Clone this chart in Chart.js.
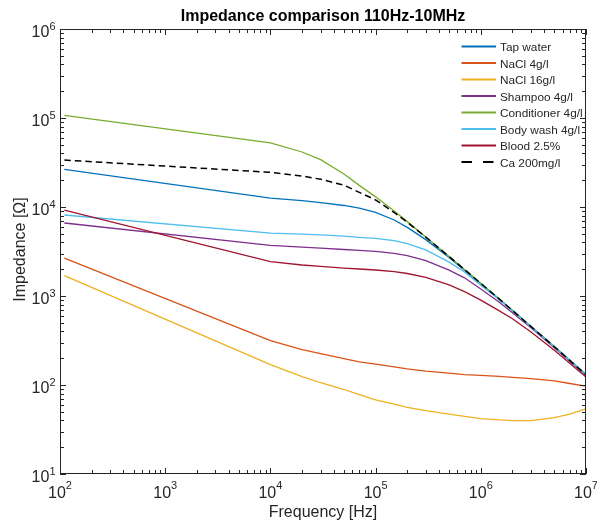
<!DOCTYPE html>
<html>
<head>
<meta charset="utf-8">
<title>Impedance comparison</title>
<script src="https://cdn.jsdelivr.net/npm/chart.js@4.4.1/dist/chart.umd.min.js"></script>
<style>
  html, body { margin: 0; padding: 0; background: #fff; }
  #wrap { width: 597px; height: 523px; }
</style>
</head>
<body>
<div id="wrap"><canvas id="impChart" width="597" height="523"></canvas></div>
<script>
// measured frequencies [Hz]
const freqHz = [110, 1e4, 2e4, 3e4, 5e4, 7e4, 1e5, 1.5e5, 2e5, 3e5, 5e5, 7e5, 1e6, 1.5e6, 2e6, 3e6, 5e6, 7e6, 1e7];

// impedance magnitude [Ohm] per sample
const tapWater   = [26400, 12600, 11800, 11200, 10400, 9700, 8700, 7150, 5900, 4300, 2700, 1950, 1370, 920, 688, 455, 270, 190, 132];
const nacl4      = [2670, 315, 250, 225, 198, 182, 172, 160, 152, 143, 136, 131, 128, 125, 122, 118, 111, 104, 97];
const nacl16     = [1690, 169, 124, 106, 89, 78, 68, 61, 56, 51.5, 47, 44.5, 42, 40.5, 39.8, 39.8, 43, 47, 54];
const shampoo    = [6610, 3710, 3550, 3450, 3330, 3260, 3180, 3020, 2850, 2500, 1950, 1600, 1200, 850, 650, 440, 262, 185, 127];
const conditioner= [107000, 52400, 41500, 34000, 23500, 17500, 13000, 9000, 6850, 4600, 2780, 1990, 1390, 925, 690, 455, 270, 190, 131];
const bodyWash   = [8130, 5100, 4950, 4850, 4700, 4550, 4450, 4180, 3880, 3300, 2400, 1860, 1320, 905, 680, 450, 267, 188, 130];
const blood      = [9250, 2430, 2230, 2150, 2060, 2010, 1960, 1880, 1790, 1620, 1330, 1120, 900, 680, 555, 395, 245, 175, 123];
const calcium    = [33700, 24500, 22300, 20500, 17600, 14600, 12000, 8700, 6750, 4580, 2770, 1985, 1385, 922, 688, 454, 269, 189, 130];

const seriesNames  = ['Tap water', 'NaCl 4g/l', 'NaCl 16g/l', 'Shampoo 4g/l', 'Conditioner 4g/l', 'Body wash 4g/l', 'Blood 2.5%', 'Ca 200mg/l'];
const seriesValues = [tapWater, nacl4, nacl16, shampoo, conditioner, bodyWash, blood, calcium];
const seriesColors = ['#0072BD', '#D95319', '#EDB120', '#7E2F8E', '#77AC30', '#4DBEEE', '#A2142F', '#000000'];

const xExponents = [2, 3, 4, 5, 6, 7];
const yExponents = [1, 2, 3, 4, 5, 6];

const titleText = 'Impedance comparison 110Hz-10MHz';
const xLabelText = 'Frequency [Hz]';
const yLabelText = 'Impedance [\u03A9]';

const AXIS_COLOR = '#262626';
const FONT = '"Liberation Sans", Arial, Helvetica, sans-serif';

function buildDatasets() {
  return seriesNames.map((name, i) => {
    const dashed = name.startsWith('Ca');
    return {
      label: name,
      data: freqHz.map((f, k) => ({ x: f, y: seriesValues[i][k] })),
      borderColor: seriesColors[i],
      borderWidth: dashed ? 1.5 : 1.3,
      borderDash: dashed ? [6.5, 4] : [],
      pointRadius: 0,
      tension: 0,
      fill: false,
      order: seriesNames.length - 1 - i
    };
  });
}

// label like 10^n, base and raised exponent
function drawPower(ctx, exp, x, y, align, vertical) {
  ctx.font = '16px ' + FONT;
  const wb = ctx.measureText('10').width;
  ctx.font = '11px ' + FONT;
  const we = ctx.measureText(String(exp)).width;
  let x0 = align === 'center' ? x - (wb + we) / 2 : x - (wb + we);
  ctx.textAlign = 'left';
  ctx.textBaseline = 'alphabetic';
  ctx.font = '16px ' + FONT;
  ctx.fillText('10', x0, y + (vertical ? 8 : 23.5));
  ctx.font = '11px ' + FONT;
  ctx.fillText(String(exp), x0 + wb, y + (vertical ? 0.5 : 15));
}

const axesBox = {
  id: 'axesBox',
  afterDraw(chart) {
    const ctx = chart.ctx;
    const { left, right, top, bottom } = chart.chartArea;
    const xs = chart.scales.x;
    const ys = chart.scales.y;
    ctx.save();

    // box
    ctx.strokeStyle = AXIS_COLOR;
    ctx.lineWidth = 1;
    ctx.strokeRect(left + 0.5, top + 0.5, right - left - 1, bottom - top - 1);

    // log ticks on all four sides
    ctx.beginPath();
    xExponents.forEach(e => {
      for (let m = 1; m <= 9; m++) {
        const v = m * Math.pow(10, e);
        if (v > xs.max * 1.0001) break;
        const px = Math.round(xs.getPixelForValue(v)) + 0.5;
        const len = m === 1 ? 6 : 4;
        ctx.moveTo(px, bottom);
        ctx.lineTo(px, bottom - len);
        ctx.moveTo(px, top);
        ctx.lineTo(px, top + len);
      }
    });
    yExponents.forEach(e => {
      for (let m = 1; m <= 9; m++) {
        const v = m * Math.pow(10, e);
        if (v > ys.max * 1.0001) break;
        const py = Math.round(ys.getPixelForValue(v)) + 0.5;
        const len = m === 1 ? 6 : 4;
        ctx.moveTo(left, py);
        ctx.lineTo(left + len, py);
        ctx.moveTo(right, py);
        ctx.lineTo(right - len, py);
      }
    });
    ctx.stroke();

    // tick labels
    ctx.fillStyle = AXIS_COLOR;
    xExponents.forEach(e => drawPower(ctx, e, xs.getPixelForValue(Math.pow(10, e)), bottom, 'center', false));
    yExponents.forEach(e => drawPower(ctx, e, left - 4.5, ys.getPixelForValue(Math.pow(10, e)), 'right', true));

    // title and axis labels
    const midX = (left + right) / 2;
    ctx.textAlign = 'center';
    ctx.font = 'bold 16px ' + FONT;
    ctx.fillStyle = '#000';
    ctx.fillText(titleText, midX, 21);
    ctx.fillStyle = AXIS_COLOR;
    ctx.font = '16px ' + FONT;
    ctx.fillText(xLabelText, midX, 517);
    ctx.save();
    ctx.translate(25, (top + bottom) / 2 - 2);
    ctx.rotate(-Math.PI / 2);
    ctx.fillText(yLabelText, 0, 0);
    ctx.restore();

    // legend, top right inside the axes
    ctx.textAlign = 'left';
    ctx.font = '11.8px ' + FONT;
    seriesNames.forEach((name, i) => {
      const rowY = 46.5 + i * 16.5;
      ctx.beginPath();
      ctx.strokeStyle = seriesColors[i];
      ctx.lineWidth = 2;
      ctx.setLineDash(name.startsWith('Ca') ? [10.5, 11] : []);
      ctx.moveTo(461.5, rowY);
      ctx.lineTo(496, rowY);
      ctx.stroke();
      ctx.setLineDash([]);
      ctx.fillStyle = AXIS_COLOR;
      ctx.fillText(name, 500, rowY + 4.5);
    });

    ctx.restore();
  }
};

function drawChart() {
  const ctx = document.getElementById('impChart').getContext('2d');
  new Chart(ctx, {
    type: 'line',
    data: { datasets: buildDatasets() },
    options: {
      responsive: false,
      animation: false,
      devicePixelRatio: 1,
      layout: { padding: { left: 60, top: 29, right: 11, bottom: 49 } },
      scales: {
        x: { type: 'logarithmic', min: 100, max: 1e7, display: false },
        y: { type: 'logarithmic', min: 10, max: 1e6, display: false }
      },
      plugins: {
        legend: { display: false },
        title: { display: false },
        tooltip: { enabled: false }
      }
    },
    plugins: [axesBox]
  });
}

window.onload = function() {
  drawChart();
}
</script>
</body>
</html>
